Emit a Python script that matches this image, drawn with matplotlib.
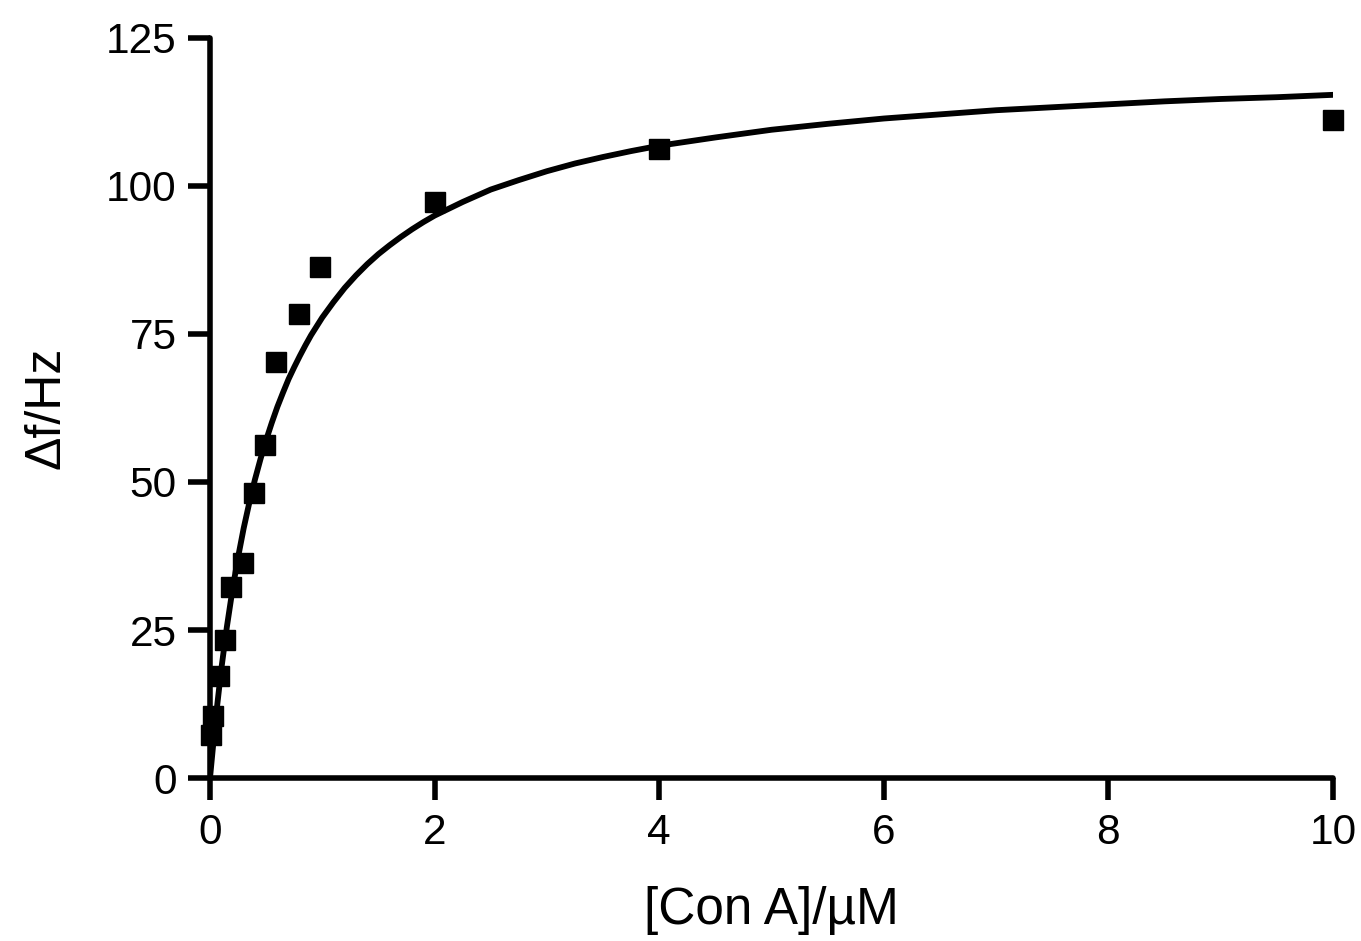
import matplotlib
matplotlib.use("Agg")
import matplotlib.pyplot as plt

plt.rcParams['font.family'] = ['Liberation Sans', 'DejaVu Sans']

# Measured data
conc = [0.005, 0.03, 0.08, 0.13, 0.19, 0.29, 0.39, 0.49, 0.59, 0.79, 0.98, 2.0, 4.0, 10.0]
df = [7.2, 10.4, 17.3, 23.3, 32.2, 36.3, 48.2, 56.2, 70.3, 78.3, 86.3, 97.3, 106.2, 111.1]

# Fitted curve
fit_x = [0, 0.05, 0.1, 0.15, 0.2, 0.25, 0.3, 0.35, 0.4, 0.45, 0.5, 0.55, 0.6, 0.65, 0.7,
         0.75, 0.8, 0.85, 0.9, 0.95, 1.0, 1.1, 1.2, 1.3, 1.4, 1.5, 1.6, 1.7, 1.8, 1.9,
         2.0, 2.25, 2.5, 2.75, 3.0, 3.25, 3.5, 3.75, 4.0, 4.5, 5.0, 5.5, 6.0, 6.5, 7.0,
         7.5, 8.0, 8.5, 9.0, 9.5, 10.0]
fit_y = [0, 9.9, 18.3, 25.5, 31.8, 37.3, 42.2, 46.5, 50.4, 53.9, 57.1, 60.0, 62.7,
         65.1, 67.4, 69.4, 71.3, 73.1, 74.8, 76.3, 77.8, 80.4, 82.8, 84.9, 86.8, 88.5,
         90.0, 91.4, 92.7, 93.9, 95.0, 97.3, 99.4, 101.0, 102.5, 103.8, 104.9, 105.9,
         106.8, 108.2, 109.5, 110.5, 111.4, 112.1, 112.8, 113.3, 113.8, 114.3, 114.7,
         115.0, 115.4]

xticks = [0, 2, 4, 6, 8, 10]
yticks = [0, 25, 50, 75, 100, 125]

fig = plt.figure(figsize=(13.61, 9.41), dpi=100)
ax = fig.add_axes([210/1361, 1-778/941, (1333-210)/1361, (778-38)/941])

ax.plot(fit_x, fit_y, color='black', lw=4.2, solid_capstyle='round',
        solid_joinstyle='round', zorder=2)
ax.plot(conc, df, 's', color='black', ms=14, zorder=3, clip_on=False)

ax.set_xlim(0, 10)
ax.set_ylim(0, 125)
ax.set_xticks(xticks)
ax.set_yticks(yticks)
for s in ['top', 'right']:
    ax.spines[s].set_visible(False)
for s in ['left', 'bottom']:
    ax.spines[s].set_linewidth(4.0)
    ax.spines[s].set_capstyle('round')
ax.tick_params(axis='both', direction='out', length=16, width=4.0, labelsize=30.5, pad=8)
ax.tick_params(axis='x', pad=9)

ax.set_xlabel('[Con A]/\u00b5M', fontsize=37, labelpad=24)
ax.set_ylabel('\u0394f/Hz', fontsize=36, labelpad=26)

fig.savefig('out.png', dpi=100)
